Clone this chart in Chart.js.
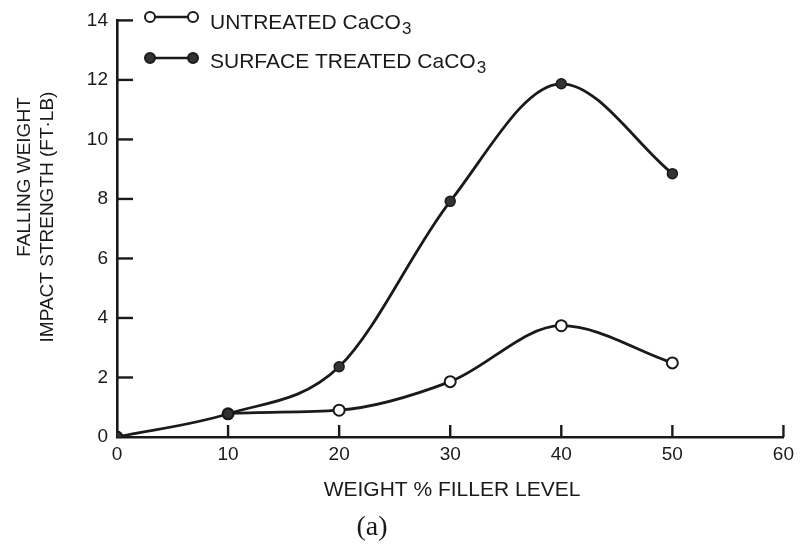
<!DOCTYPE html>
<html>
<head>
<meta charset="utf-8">
<script src="https://cdn.jsdelivr.net/npm/chart.js@4.4.0/dist/chart.umd.min.js"></script>
<style>
  html, body { margin: 0; padding: 0; background: #fff; }
  #wrap { width: 800px; height: 546px; position: relative; }
</style>
</head>
<body>
<div id="wrap"><canvas id="impactChart"></canvas></div>
<script>
// filler level in weight %, impact strength in ft.lb
const fillerLevels = [0, 10, 20, 30, 40, 50];
const untreatedValues = [0, 0.78, 0.9, 1.86, 3.74, 2.49];
const treatedValues = [0, 0.78, 2.36, 7.92, 11.87, 8.85];
const seriesLabels = ["UNTREATED CaCO₃", "SURFACE TREATED CaCO₃"];
const xTicks = [0, 10, 20, 30, 40, 50, 60];
const yTicks = [0, 2, 4, 6, 8, 10, 12, 14];
const xTitle = "WEIGHT % FILLER LEVEL";
const yTitle = ["FALLING WEIGHT", "IMPACT STRENGTH (FT·LB)"];
const panelLabel = "(a)";

const ink = "#1a1a1a";
const sans = "'Liberation Sans', Arial, sans-serif";

function toPoints(values) {
    return fillerLevels.map((x, i) => ({ x: x, y: values[i] }));
}

// draws "CaCO₃" with a plain, dropped 3 like the scan
function drawLabel(ctx, text, x, y) {
    const main = text.replace("₃", "");
    ctx.font = "21px " + sans;
    ctx.fillText(main, x, y);
    const w = ctx.measureText(main).width;
    ctx.font = "17px " + sans;
    ctx.fillText("3", x + w + 1, y + 5);
}

// inward tick marks, titles and the little legend at the top
const decorations = {
    id: "decorations",
    afterDraw(chart) {
        const ctx = chart.ctx;
        const xs = chart.scales.x;
        const ys = chart.scales.y;
        ctx.save();
        ctx.strokeStyle = ink;
        ctx.fillStyle = ink;
        ctx.lineWidth = 2.4;

        yTicks.forEach(v => {
            if (v === 0) return;
            const py = ys.getPixelForValue(v);
            ctx.beginPath();
            ctx.moveTo(xs.left, py);
            ctx.lineTo(xs.left + 16, py);
            ctx.stroke();
        });
        xTicks.forEach(v => {
            if (v === 0) return;
            const px = xs.getPixelForValue(v);
            ctx.beginPath();
            ctx.moveTo(px, ys.bottom);
            ctx.lineTo(px, ys.bottom - 12);
            ctx.stroke();
        });

        // axis titles
        ctx.textAlign = "center";
        ctx.textBaseline = "middle";
        ctx.font = "21px " + sans;
        ctx.fillText(xTitle, 452, 490);
        ctx.font = "19px " + sans;
        ctx.save();
        ctx.translate(25, 177);
        ctx.rotate(-Math.PI / 2);
        ctx.fillText(yTitle[0], 0, 0);
        ctx.restore();
        ctx.save();
        ctx.translate(48, 217);
        ctx.rotate(-Math.PI / 2);
        ctx.fillText(yTitle[1], 0, 0);
        ctx.restore();

        ctx.font = "28px 'Liberation Serif', 'Times New Roman', serif";
        ctx.fillText(panelLabel, 372, 528);

        // legend
        const rows = [
            { y: 17, textY: 29, fill: "#fff", ds: chart.data.datasets[0] },
            { y: 58, textY: 68, fill: "#333", ds: chart.data.datasets[1] }
        ];
        ctx.textAlign = "left";
        ctx.textBaseline = "alphabetic";
        rows.forEach(r => {
            ctx.lineWidth = 2.6;
            ctx.beginPath();
            ctx.moveTo(150, r.y);
            ctx.lineTo(193, r.y);
            ctx.stroke();
            [150, 193].forEach(cx => {
                ctx.beginPath();
                ctx.arc(cx, r.y, 5, 0, Math.PI * 2);
                ctx.fillStyle = r.fill;
                ctx.fill();
                ctx.lineWidth = 2;
                ctx.stroke();
            });
            ctx.fillStyle = ink;
            drawLabel(ctx, r.ds.label, 210, r.textY);
        });
        ctx.restore();
    }
};

const ctx = document.getElementById("impactChart").getContext("2d");
new Chart(ctx, {
    type: "line",
    data: {
        datasets: [
            {
                label: seriesLabels[0],
                data: toPoints(untreatedValues),
                borderColor: ink,
                borderWidth: 2.8,
                pointRadius: 5.5,
                pointBackgroundColor: "#fff",
                pointBorderColor: ink,
                pointBorderWidth: 2,
                cubicInterpolationMode: "monotone",
                // first stretch is shared with the treated curve
                segment: { borderColor: c => c.p0DataIndex === 0 ? "rgba(0,0,0,0)" : ink },
                fill: false,
                order: 1
            },
            {
                label: seriesLabels[1],
                data: toPoints(treatedValues),
                borderColor: ink,
                borderWidth: 2.8,
                pointRadius: 5,
                pointBackgroundColor: "#333",
                pointBorderColor: ink,
                pointBorderWidth: 1.5,
                cubicInterpolationMode: "monotone",
                fill: false,
                order: 0
            }
        ]
    },
    options: {
        responsive: true,
        maintainAspectRatio: false,
        animation: false,
        layout: { padding: { left: 0, top: 15, right: 15, bottom: 0 } },
        plugins: {
            legend: { display: false },
            tooltip: { enabled: false }
        },
        scales: {
            x: {
                type: "linear",
                min: 0,
                max: 60,
                afterFit: s => { s.height = 109; },
                afterBuildTicks: s => { s.ticks = xTicks.map(v => ({ value: v })); },
                grid: { display: false, drawTicks: false, tickLength: 0 },
                border: { display: true, color: ink, width: 2.6 },
                ticks: { color: ink, padding: 6, font: { family: sans, size: 19 } }
            },
            y: {
                min: 0,
                max: 14,
                afterFit: s => { s.width = 117; },
                afterBuildTicks: s => { s.ticks = yTicks.map(v => ({ value: v })); },
                grid: { display: false, drawTicks: false, tickLength: 0 },
                border: { display: true, color: ink, width: 2.6 },
                ticks: { color: ink, padding: 9, font: { family: sans, size: 19 } }
            }
        }
    },
    plugins: [decorations]
});
</script>
</body>
</html>
